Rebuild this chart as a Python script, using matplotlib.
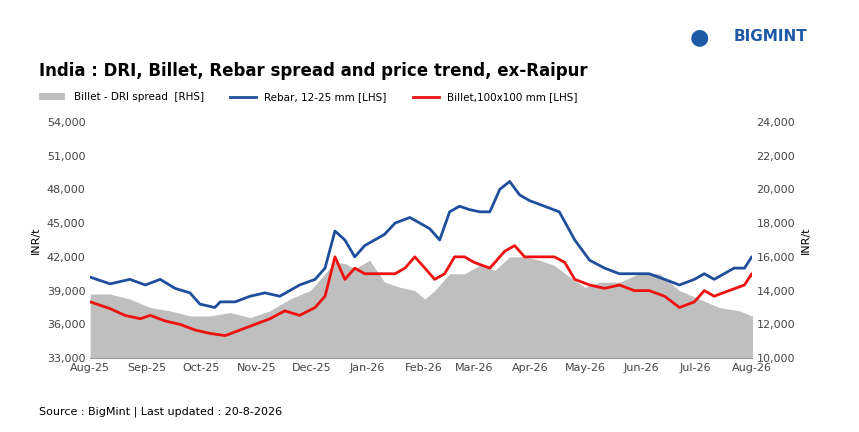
import numpy as np
import pandas as pd
import matplotlib.pyplot as plt
import matplotlib.dates as mdates

start = pd.Timestamp('2025-08-01')

def to_dates(months):
    return [start + pd.Timedelta(days=m * 30.42) for m in months]

# Rebar, 12-25 mm (LHS) - month offset from Aug-25, INR/t
rebar_m = [0, 0.36, 0.72, 1.0, 1.27, 1.54, 1.81, 1.99, 2.26, 2.36, 2.63, 2.9, 3.17, 3.44, 3.8,
           4.08, 4.26, 4.44, 4.62, 4.8, 4.98, 5.16, 5.34, 5.53, 5.8, 5.98, 6.16, 6.34, 6.52, 6.7,
           6.88, 7.07, 7.25, 7.43, 7.61, 7.79, 7.97, 8.24, 8.51, 8.79, 9.06, 9.33, 9.6, 9.87,
           10.14, 10.42, 10.69, 10.96, 11.14, 11.32, 11.5, 11.68, 11.87, 12.0, 12.05]
rebar = [40200, 39600, 40000, 39500, 40000, 39200, 38800, 37800, 37500, 38000, 38000, 38500,
         38800, 38500, 39500, 40000, 41000, 44300, 43500, 42000, 43000, 43500, 44000, 45000,
         45500, 45000, 44500, 43500, 46000, 46500, 46200, 46000, 46000, 48000, 48700, 47500,
         47000, 46500, 46000, 43500, 41700, 41000, 40500, 40500, 40500, 40000, 39500, 40000,
         40500, 40000, 40500, 41000, 41000, 42000, 41700]

# Billet, 100x100 mm (LHS)
billet_m = [0, 0.36, 0.63, 0.91, 1.09, 1.36, 1.63, 1.9, 2.17, 2.45, 2.72, 2.99, 3.26, 3.53,
            3.8, 4.08, 4.26, 4.44, 4.62, 4.8, 4.98, 5.25, 5.53, 5.71, 5.89, 6.07, 6.25, 6.43,
            6.61, 6.79, 6.97, 7.25, 7.52, 7.7, 7.88, 8.15, 8.42, 8.61, 8.79, 9.06, 9.33, 9.6,
            9.87, 10.14, 10.42, 10.69, 10.96, 11.14, 11.32, 11.59, 11.87, 12.0, 12.05]
billet = [38000, 37400, 36800, 36500, 36800, 36300, 36000, 35500, 35200, 35000, 35500, 36000,
          36500, 37200, 36800, 37500, 38500, 42000, 40000, 41000, 40500, 40500, 40500, 41000,
          42000, 41000, 40000, 40500, 42000, 42000, 41500, 41000, 42500, 43000, 42000, 42000,
          42000, 41500, 40000, 39500, 39200, 39500, 39000, 39000, 38500, 37500, 38000, 39000,
          38500, 39000, 39500, 40500, 40000]

# Billet - DRI spread (RHS)
spread_m = [0, 0.36, 0.72, 1.09, 1.45, 1.81, 2.17, 2.54, 2.9, 3.26, 3.62, 3.99, 4.26, 4.44,
            4.62, 4.8, 5.07, 5.34, 5.62, 5.89, 6.07, 6.25, 6.52, 6.79, 7.07, 7.34, 7.61, 7.88,
            8.15, 8.42, 8.7, 8.97, 9.24, 9.6, 9.96, 10.33, 10.69, 11.05, 11.41, 11.78, 12.0, 12.05]
spread = [13800, 13800, 13500, 13000, 12800, 12500, 12500, 12700, 12400, 12800, 13500, 14000,
          15000, 15700, 15600, 15300, 15800, 14500, 14200, 14000, 13500, 14000, 15000, 15000,
          15500, 15200, 16000, 16000, 15800, 15500, 14800, 14200, 14500, 14500, 15000, 15000,
          14000, 13500, 13000, 12800, 12500, 12700]

fig = plt.figure(figsize=(8.59, 4.32), dpi=100)
ax = fig.add_axes([0.105, 0.171, 0.77, 0.547])
ax2 = ax.twinx()

ax2.fill_between(to_dates(spread_m), spread, 10000, color='#bfbfbf', lw=0, label='Billet - DRI spread  [RHS]')
ax2.set_ylim(10000, 24000)
ax2.set_yticks(np.arange(10000, 24001, 2000))
ax2.yaxis.set_major_formatter(plt.FuncFormatter(lambda v, p: f'{int(v):,}'))
ax2.set_ylabel('INR/t', fontsize=8)

ax.set_zorder(ax2.get_zorder() + 1)
ax.patch.set_visible(False)
ax.plot(to_dates(rebar_m), rebar, color='#1f4e9c', lw=2, label='Rebar, 12-25 mm [LHS]')
ax.plot(to_dates(billet_m), billet, color='#ee1111', lw=2, label='Billet,100x100 mm [LHS]')
ax.set_ylim(33000, 54000)
ax.set_yticks(np.arange(33000, 54001, 3000))
ax.yaxis.set_major_formatter(plt.FuncFormatter(lambda v, p: f'{int(v):,}'))
ax.set_ylabel('INR/t', fontsize=8)
ax.set_xlim(start, pd.Timestamp('2026-08-01'))
ax.xaxis.set_major_locator(mdates.MonthLocator())
ax.xaxis.set_major_formatter(mdates.DateFormatter('%b-%y'))

for a in (ax, ax2):
    for s in a.spines.values():
        s.set_visible(False)
    a.tick_params(length=0, labelsize=8, colors='#444444')
ax.spines['bottom'].set_visible(True)
ax.spines['bottom'].set_color('#999999')

fig.text(0.045, 0.825, 'India : DRI, Billet, Rebar spread and price trend, ex-Raipur',
         fontsize=12, fontweight='bold')
h1, l1 = ax2.get_legend_handles_labels()
h2, l2 = ax.get_legend_handles_labels()
fig.legend(h1 + h2, l1 + l2, loc='center left', bbox_to_anchor=(0.035, 0.775), ncol=3,
           frameon=False, fontsize=7.5, handlelength=2.5, columnspacing=2.5)
fig.text(0.045, 0.04, 'Source : BigMint | Last updated : 20-8-2026', fontsize=8)
fig.text(0.94, 0.905, 'BIGMINT', fontsize=11, fontweight='bold', color='#1f5aa6', ha='right')
fig.text(0.825, 0.9, '\u25CF', fontsize=16, color='#1f5aa6', ha='right')

fig.savefig('out.png', dpi=100)
